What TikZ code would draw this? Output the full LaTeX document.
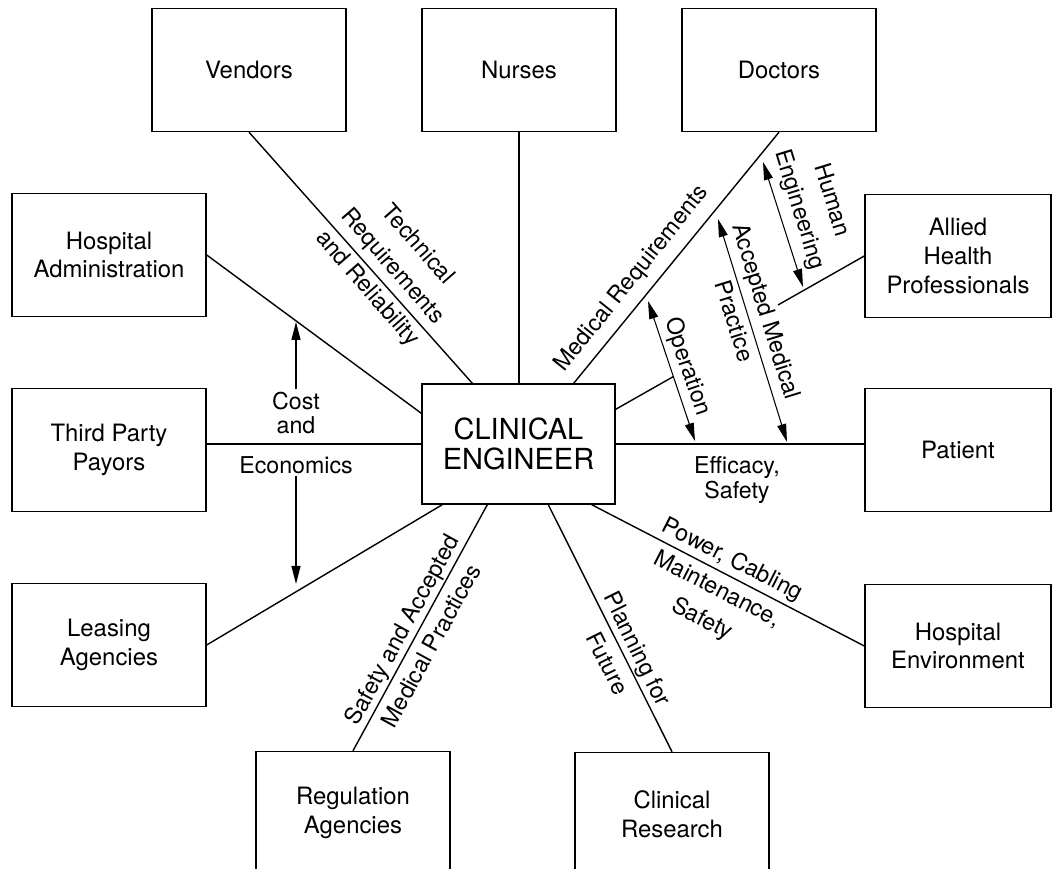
\documentclass[tikz,border=0pt]{standalone}
\usepackage{fontspec}
\setmainfont{TeX Gyre Heros}
\usetikzlibrary{arrows.meta,calc}

\tikzset{
  party/.style={draw, line width=0.8pt, minimum width=3.88cm, minimum height=2.46cm,
    align=center, font=\fontsize{13.6}{16.3}\selectfont},
  hub/.style={draw, line width=0.8pt, minimum width=3.86cm, minimum height=2.40cm,
    align=center, font=\fontsize{16.5}{17.5}\selectfont},
  tag/.style={align=center, inner sep=1pt, font=\fontsize{13.2}{19}\selectfont},
  flattag/.style={align=center, inner sep=1pt, font=\fontsize{13.2}{14.5}\selectfont},
  arr/.style={line width=0.6pt, -{Triangle[length=3.6mm,width=1.8mm]}},
  dbl/.style={line width=0.6pt, {Triangle[length=3.6mm,width=1.8mm]}-{Triangle[length=3.6mm,width=1.8mm]}}
}

\begin{document}
\begin{tikzpicture}[line width=0.8pt]
  \useasboundingbox (0,0) rectangle (21.06,17.38);
  \clip (0,0) rectangle (21.06,17.38);

  % Centre box
  \node[hub] (ce) at (10.37,8.5) {CLINICAL\\ENGINEER};

  % Surrounding parties
  \node[party] (vendors) at (4.98,15.98) {Vendors};
  \node[party] (nurses) at (10.38,15.98) {Nurses};
  \node[party] (doctors) at (15.58,15.98) {Doctors};
  \node[party] (admin) at (2.18,12.28) {Hospital\\Administration};
  \node[party, minimum width=3.72cm] (allied) at (19.16,12.26) {Allied\\Health\\Professionals};
  \node[party] (payors) at (2.18,8.38) {Third Party\\Payors};
  \node[party, minimum width=3.72cm] (patient) at (19.16,8.38) {Patient};
  \node[party] (leasing) at (2.18,4.48) {Leasing\\Agencies};
  \node[party, minimum width=3.72cm] (environ) at (19.16,4.46) {Hospital\\Environment};
  \node[party] (regulation) at (7.06,1.12) {Regulation\\Agencies};
  \node[party] (research) at (13.44,1.10) {Clinical\\Research};

  % Spokes to the centre
  \draw (vendors.south) -- ([xshift=1.02cm]ce.north west);
  \draw (nurses.south) -- (nurses.south |- ce.north);
  \draw (doctors.south) -- ([xshift=-0.84cm]ce.north east);
  \draw (admin.east) -- ([yshift=-0.6cm]ce.north west);
  \draw (ce.west) -- (ce.west -| payors.east);
  \draw (leasing.east) -- ([xshift=0.42cm]ce.south west);
  \draw (regulation.north) -- ([xshift=1.32cm]ce.south west);
  \draw (research.north) -- ([xshift=2.54cm]ce.south west);
  \draw (environ.west) -- ([xshift=-0.48cm]ce.south east);
  \draw (ce.east) -- (ce.east -| patient.west);

  % Arrow end points
  \coordinate (he1) at (15.26,14.14);
  \coordinate (he2) at (16.06,11.64);
  \coordinate (amp1) at (14.36,13.0);
  \coordinate (amp2) at (15.74,8.54);
  \coordinate (op1) at (12.96,11.36);
  \coordinate (op2) at (13.90,8.56);
  \coordinate (alliedend) at (15.56,11.28);
  \coordinate (costtip) at (5.92,10.94);
  \coordinate (econtip) at (5.92,5.70);

  % Double arrows
  \draw[dbl] (he1) -- (he2);
  \draw[dbl] (amp1) -- (amp2);
  \draw[dbl] (op1) -- (op2);
  \draw (allied.west) -- (alliedend);
  \draw ([yshift=-0.52cm]ce.north east) -- ($(op1)!0.54!(op2)$);

  % Labels along the spokes
  \node[tag, rotate=-49] (techlbl) at (7.84,12.04) {Technical\\Requirements\\and Reliability};
  \node[tag, rotate=51.4] (medlbl) at (12.64,11.8) {Medical Requirements};
  \node[tag, rotate=-73] (humlbl) at (16.30,13.28) {Human\\Engineering};
  \node[tag, rotate=-72.8] (amplbl) at (15.02,11.06) {Accepted Medical\\Practice};
  \node[tag, rotate=-71.5] (oplbl) at (13.74,10.04) {Operation};
  \node[flattag] (eff) at (14.74,7.78) {Efficacy,\\Safety};
  \node[tag, rotate=-27] (powlbl) at (14.34,5.58) {Power, Cabling\\Maintenance,\\Safety};
  \node[tag, rotate=-63.7] (planlbl) at (12.46,4.26) {Planning for\\Future};
  \node[tag, rotate=61.4] (saflbl) at (8.32,4.63) {Safety and Accepted\\Medical Practices};

  % Cost and economics
  \node[flattag, font=\fontsize{13.2}{14}\selectfont] (cost) at (5.92,9.12) {Cost\\and};
  \node[flattag] (econ) at (5.92,8.08) {Economics};
  \draw[arr] (cost) -- (costtip);
  \draw[arr] (econ) -- (econtip);
\end{tikzpicture}
\end{document}
